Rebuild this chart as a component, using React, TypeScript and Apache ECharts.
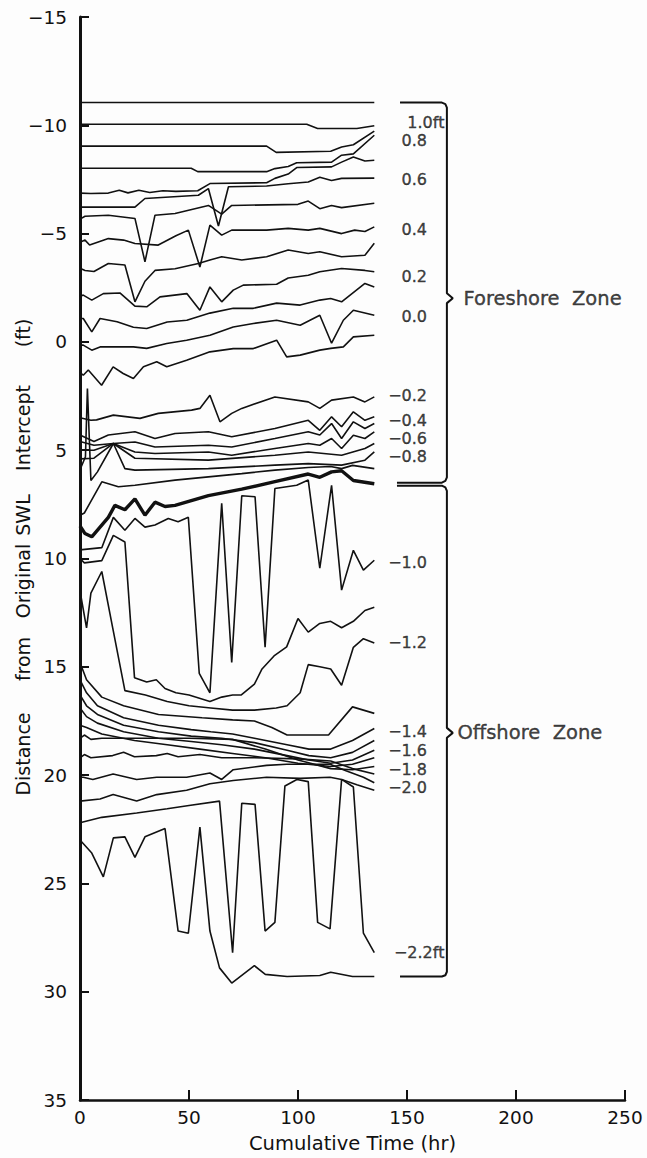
import React, { useEffect, useRef } from "react";
import * as echarts from "echarts";

// ---------- axes ----------
const hourAxis = { min: 0, max: 250, step: 50 };
const distanceAxis = { min: -15, max: 35, step: 5 };

// ---------- foreshore contour traces: [cumulative hours, distance ft] ----------
const fore1 = [[0, -11.05], [135, -11.05]];
const fore2 = [[0, -10.05], [104, -10.05], [109, -9.85], [127, -9.85], [135, -9.98]];
const fore3 = [[0, -9.04], [85.6, -9.04], [90, -8.75], [115, -8.8], [120, -9.0], [125.4, -9.1], [135, -9.73]];
const fore4 = [[0, -8.02], [51, -8.02], [54, -7.86], [85.6, -7.86], [89.4, -8.0], [95.5, -8.1], [99.4, -8.27], [115.4, -8.3], [120, -8.62], [125.4, -8.68], [135, -9.54]];
const fore5 = [[0, -6.87], [5, -6.85], [13, -6.87], [18, -7.0], [22, -6.88], [27, -7.0], [32, -6.9], [38, -6.98], [44, -6.95], [54, -6.98], [59.6, -7.31], [85.6, -7.35], [89.4, -7.55], [95.5, -7.75], [99.4, -8.05], [115.4, -8.08], [120, -8.3], [125.4, -8.54], [130.7, -8.35], [135, -8.39]];
const fore6 = [[0, -6.22], [25.2, -6.22], [29.8, -6.62], [54.3, -6.77], [58.9, -7.08], [63.5, -5.35], [68.1, -7.16], [85.6, -7.2], [95.5, -7.3], [104.7, -7.38], [110, -7.6], [115.4, -7.45], [120, -7.55], [135, -7.56]];
const fore7 = [[0, -5.67], [2.3, -5.8], [13, -5.85], [25.2, -5.7], [29.8, -3.7], [34.4, -5.85], [43.6, -5.93], [58.9, -6.3], [65, -5.9], [69.6, -6.3], [100, -6.35], [104.7, -6.5], [110, -6.15], [115.4, -6.3], [120, -6.2], [135, -6.4]];
const fore8 = [[0, -4.6], [2.3, -4.7], [4.4, -4.47], [13, -4.77], [20, -4.7], [25.2, -4.54], [35.9, -4.47], [44, -4.9], [49.7, -5.16], [55, -3.46], [59.6, -5.39], [65, -4.93], [69.6, -5.16], [85.6, -5.16], [95.5, -5.24], [104.7, -5.16], [110, -5.24], [120, -5.0], [126, -5.16], [130.7, -5.1], [135, -5.31]];
const fore9 = [[0, -3.4], [2.3, -3.3], [6.4, -3.25], [13, -3.62], [20.6, -3.55], [25.2, -1.85], [29.8, -2.8], [34.4, -3.3], [43.6, -3.38], [54.3, -3.62], [59.6, -3.78], [65, -3.93], [74.2, -3.78], [85.6, -3.93], [95.5, -4.24], [104.7, -4.08], [110, -4.16], [120, -3.93], [130.7, -4.0], [135, -4.55]];
const fore10 = [[0, -2.1], [1.5, -2.16], [5.4, -1.93], [10.7, -2.23], [18.3, -2.26], [25.2, -1.65], [30.6, -1.62], [36.7, -2.08], [49, -2.23], [55, -1.46], [59.6, -2.54], [65, -1.85], [70.3, -2.39], [74.9, -2.62], [90.2, -2.66], [95.5, -2.95], [104.7, -3.08], [110, -3.24], [120, -3.39], [130.7, -3.3], [135, -3.24]];
const fore11 = [[0, -1.08], [1.5, -1.08], [5.4, -0.46], [9.2, -1.08], [17, -0.93], [24.5, -0.68], [30.6, -0.62], [40, -0.92], [49, -1.0], [59.6, -1.33], [70.3, -1.55], [79.5, -1.55], [90.2, -1.79], [101, -1.7], [110, -1.93], [115, -2.0], [120, -1.85], [130.7, -2.7], [135, -2.54]];
const fore12 = [[0, 0.15], [1.5, 0.15], [5.4, 0.38], [9.2, 0.23], [24.5, 0.23], [30.6, 0.3], [39.8, 0.07], [48.9, -0.08], [59.6, -0.31], [70.3, -0.69], [79.5, -0.85], [90.2, -1.0], [101, -0.77], [110, -1.23], [115.4, 0.06], [120.8, -1.0], [125.4, -1.46], [135, -1.23]];
const fore13 = [[0, 1.4], [1.5, 1.54], [3.8, 1.3], [9.9, 2.0], [15.2, 1.15], [19.8, 1.46], [24.5, 1.69], [29.1, 1.15], [35.2, 0.92], [39.8, 1.15], [48.9, 0.85], [59.6, 0.46], [70.3, 0.31], [79.5, 0.31], [90.2, -0.08], [94.8, 0.69], [101, 0.61], [110, 0.38], [115, 0.3], [120.8, 0.23], [125.4, -0.23], [135, -0.31]];
const fore14 = [[0, 3.5], [5, 3.62], [7.6, 3.6], [15.3, 3.38], [27.5, 3.53], [35.9, 3.3], [51.2, 3.15], [55, 3.07], [59.6, 2.46], [64.2, 3.69], [69.6, 3.3], [74.2, 3.07], [89.4, 2.54], [104.7, 2.77], [110, 3.07], [115.4, 2.69], [125.4, 2.54], [130.7, 2.77], [135, 2.54]];
const fore15 = [[0, 4.3], [6.4, 4.6], [13, 4.3], [25.2, 4.15], [34.4, 4.46], [43.6, 4.23], [58.9, 4.15], [69.6, 4.38], [89.4, 4.0], [104.7, 3.62], [110, 4.08], [115.4, 3.46], [120, 3.92], [125.4, 3.23], [130.7, 3.62], [135, 3.46]];
const fore16 = [[0, 4.6], [6.4, 4.77], [15.3, 4.69], [25.2, 4.62], [34.4, 4.85], [58.9, 4.77], [69.6, 4.85], [89.4, 4.46], [104.7, 4.15], [110, 4.3], [115.4, 3.77], [120, 4.46], [125.4, 3.69], [130.7, 4.0], [135, 3.77]];
const fore17 = [[0, 5.0], [6.4, 5.0], [15.3, 4.69], [25.2, 5.08], [34.4, 5.15], [58.9, 5.08], [69.6, 5.23], [89.4, 4.92], [104.7, 4.69], [110, 4.77], [115.4, 4.46], [120, 4.92], [125.4, 4.31], [130.7, 4.46], [135, 4.15]];
const fore18 = [[0, 5.4], [6.4, 5.37], [15.3, 4.69], [25.2, 5.37], [58.9, 5.46], [89.4, 5.23], [104.7, 5.08], [120, 5.23], [130.7, 4.92], [135, 4.69]];
const fore19 = [[0, 5.9], [2.5, 5.3], [3.4, 2.15], [5, 6.4], [8, 6.0], [15.3, 4.69], [20.6, 5.85], [25.2, 5.92], [58.9, 5.85], [89.4, 5.69], [104.7, 5.62], [120, 5.69], [130.7, 5.46], [135, 5.08]];
const fore20 = [[0, 8.0], [2, 7.9], [10, 6.46], [17.6, 6.69], [25.2, 6.62], [43.6, 6.38], [58.9, 6.23], [74.2, 6.08], [89.4, 5.92], [104.7, 5.8], [115, 5.75], [120, 5.85], [125, 5.7], [135, 5.85]];

// ---------- zone boundary (heavy trace) ----------
const boundaryTrace = [[0, 8.5], [2.3, 8.85], [5.4, 9.0], [13, 8.1], [16, 7.55], [20.6, 7.75], [25.2, 7.25], [29.8, 8.0], [34.4, 7.4], [39, 7.6], [43.6, 7.55], [58.9, 7.1], [74.2, 6.8], [89.4, 6.45], [104.7, 6.1], [110, 6.25], [115.4, 6.0], [120, 5.95], [125.4, 6.4], [135, 6.55]];

// ---------- offshore contour traces ----------
const off1 = [[0, 9.6], [10, 9.5], [15.3, 8.1], [20.6, 8.7], [25.2, 8.15], [29.8, 8.55], [34.4, 8.45], [40.5, 8.15], [45, 8.3], [49.7, 8.1], [54.7, 15.3], [59.6, 16.2], [65, 7.45], [69.6, 14.8], [74.2, 7.1], [80.3, 7.15], [84.9, 14.1], [89.4, 6.77], [99.4, 6.62], [104.7, 6.38], [110, 10.45], [115.4, 6.62], [120, 11.46], [125.4, 9.62], [130, 10.54], [135, 10.08]];
const off2 = [[0, 10.0], [2, 10.2], [10, 10.1], [15.3, 8.93], [20.6, 9.24], [25, 15.5], [30.6, 15.7], [35, 15.6], [39, 16.0], [44, 16.2], [50, 16.3], [59.6, 16.6], [65, 16.4], [70, 16.3], [74, 16.3], [80, 15.8], [83.5, 15.1], [89, 14.5], [94.8, 14.08], [100, 12.77], [104.7, 13.4], [110, 13.0], [115, 12.9], [120, 13.2], [125.4, 12.9], [130.7, 12.4], [135, 12.25]];
const off3 = [[0, 11.5], [3, 13.2], [5, 11.6], [10, 10.6], [15, 13.2], [20.6, 16.1], [30, 16.3], [40, 16.6], [50, 16.8], [60, 16.9], [70, 17.0], [80, 17.0], [90, 16.9], [95, 16.8], [101, 16.2], [104.7, 14.9], [110, 15.0], [115, 15.1], [120, 15.85], [125.4, 14.1], [130, 13.7], [135, 13.9]];
const off4 = [[0, 14.8], [3, 15.6], [10, 16.4], [20, 16.8], [36, 17.2], [56, 17.35], [70, 17.45], [80, 17.5], [88, 17.8], [95, 18.15], [114, 18.15], [125, 16.85], [135, 17.15]];
const off5 = [[0, 15.6], [3, 16.2], [8, 16.8], [20, 17.35], [36, 17.7], [51, 17.9], [60, 18.0], [70, 18.1], [80, 18.3], [95, 18.6], [105, 18.8], [115, 18.8], [125, 18.4], [135, 17.85]];
const off6 = [[0, 16.3], [3, 16.8], [8, 17.2], [20, 17.7], [36, 18.0], [51, 18.2], [65, 18.3], [80, 18.5], [95, 18.85], [105, 19.1], [115, 19.2], [125, 18.95], [135, 18.4]];
const off7 = [[0, 16.9], [3, 17.3], [8, 17.6], [20, 18.0], [36, 18.3], [51, 18.45], [65, 18.6], [80, 18.8], [95, 19.1], [105, 19.3], [115, 19.45], [125, 19.3], [135, 18.85]];
const off8 = [[0, 17.7], [3, 17.8], [10, 18.1], [25, 18.4], [40, 18.6], [55, 18.8], [70, 19.0], [85, 19.2], [100, 19.45], [115, 19.6], [125, 19.5], [135, 19.2]];
const off9 = [[0, 18.3], [2, 18.15], [5, 18.35], [10, 18.3], [50, 18.3], [70, 18.35], [85, 18.8], [100, 19.3], [115, 19.7], [125, 19.75], [135, 19.6]];
const off10 = [[0, 19.2], [2, 19.05], [5, 19.2], [15, 19.1], [20, 18.95], [25, 19.15], [35, 19.1], [40, 19.0], [45, 19.15], [55, 19.05], [65, 19.2], [80, 19.2], [100, 19.25], [115, 19.35], [125, 19.7], [135, 19.95]];
const off11 = [[0, 20.1], [1.5, 20.1], [5.9, 20.2], [15.2, 19.95], [26, 20.2], [35.2, 20.1], [48.9, 20.1], [59.6, 19.9], [65, 20.2], [70.3, 19.75], [85.6, 19.55], [94.8, 19.5], [114.7, 19.5], [122, 19.8], [130, 20.1], [135, 20.35]];
const off12 = [[0, 21.2], [9.2, 21.1], [15.2, 20.9], [26, 21.2], [35.2, 20.9], [48.9, 20.7], [59.6, 20.4], [70.3, 20.25], [85.6, 20.1], [101, 20.15], [114.7, 20.1], [120, 20.2], [127, 20.45], [135, 20.7]];
const off13 = [[0, 22.2], [10, 21.95], [26, 21.75], [40, 21.55], [50, 21.4], [64, 21.2], [70, 28.2], [74.2, 21.3], [80.3, 21.35], [84.9, 27.2], [89.4, 26.8], [94, 20.5], [99.5, 20.2], [104.7, 20.3], [109, 26.8], [114.7, 27.1], [120, 20.2], [125.4, 20.55], [130, 27.3], [135, 28.2]];
const off14 = [[0, 23.0], [5.4, 23.6], [10.7, 24.7], [15.3, 22.9], [20.6, 22.85], [25.2, 23.8], [29.8, 22.85], [39, 22.47], [45, 27.2], [49.7, 27.3], [55, 22.4], [59.6, 27.2], [64, 28.9], [69.6, 29.6], [80, 28.8], [85, 29.2], [95, 29.3], [110, 29.25], [115, 29.1], [125, 29.3], [135, 29.3]];

// ---------- zone braces ----------
const foreshoreBrace = [[146.8, -11.05], [166, -11.05], [167.6, -10.98], [168.3, -10.82], [168.3, -2.25], [171, -2.02], [168.3, -1.79], [168.3, 6.25], [167.6, 6.42], [166, 6.5], [145.4, 6.5]];
const offshoreBrace = [[145.4, 6.64], [166, 6.64], [167.6, 6.72], [168.3, 6.88], [168.3, 17.82], [171, 18.05], [168.3, 18.28], [168.3, 29.08], [167.6, 29.24], [166, 29.3], [146.8, 29.3]];

// ---------- contour labels ----------
const contourLabelText = ["1.0ft", "0.8", "0.6", "0.4", "0.2", "0.0", "\u22120.2", "\u22120.4", "\u22120.6", "\u22120.8", "\u22121.0", "\u22121.2", "\u22121.4", "\u22121.6", "\u22121.8", "\u22122.0", "\u22122.2ft"];
const contourLabelFt = [-10.15, -9.3, -7.51, -5.2, -3.03, -1.19, 2.46, 3.62, 4.45, 5.28, 10.17, 13.86, 17.97, 18.85, 19.72, 20.55, 28.2];

const zoneNames = ["Foreshore  Zone", "Offshore  Zone"];
const zoneFt = [-2.02, 18.05];

const axisTitleWords = ["Distance", "from", "Original", "SWL", "Intercept", "(ft)"];
const axisTitleCenters = [754, 659, 581, 515, 428, 333];

const thinTraces = [
  fore1, fore2, fore3, fore4, fore5, fore6, fore7, fore8, fore9, fore10,
  fore11, fore12, fore13, fore14, fore15, fore16, fore17, fore18, fore19, fore20,
  off1, off2, off3, off4, off5, off6, off7, off8, off9, off10, off11, off12, off13, off14,
];

const INK = "#111111";
const FONT = "DejaVu Sans";

function minusFmt(v: number) {
  return v < 0 ? "\u2212" + Math.abs(v) : String(v);
}

export default function App() {
  const ref = useRef<HTMLDivElement>(null);
  useEffect(() => {
    const chart = echarts.init(ref.current!, null, { renderer: "svg" });

    const series: any[] = thinTraces.map((d, i) => ({
      type: "line",
      name: "trace" + i,
      data: d,
      symbol: "none",
      silent: true,
      lineStyle: { color: INK, width: 1.6 },
      z: 2,
    }));
    series.push({
      type: "line",
      name: "boundary",
      data: boundaryTrace,
      symbol: "none",
      silent: true,
      lineStyle: { color: INK, width: 3.4 },
      z: 3,
    });
    [foreshoreBrace, offshoreBrace].forEach((b, i) => {
      series.push({
        type: "line",
        name: "brace" + i,
        data: b,
        symbol: "none",
        silent: true,
        lineStyle: { color: INK, width: 2 },
        z: 3,
      });
    });
    series.push({
      type: "scatter",
      name: "contourLabels",
      silent: true,
      symbolSize: 1,
      itemStyle: { color: "rgba(0,0,0,0)" },
      data: contourLabelText.map((t, i) => ({
        name: t,
        value: [t.endsWith("ft") ? 167.4 : 159.4, contourLabelFt[i]],
      })),
      label: {
        show: true,
        position: "left",
        distance: 0,
        formatter: "{b}",
        color: INK,
        fontFamily: FONT,
        fontSize: 16,
        textBorderColor: INK,
        textBorderWidth: 0.4,
      },
      z: 4,
    });
    series.push({
      type: "scatter",
      name: "zoneLabels",
      silent: true,
      symbolSize: 1,
      itemStyle: { color: "rgba(0,0,0,0)" },
      data: zoneNames.map((t, i) => ({
        name: t,
        value: [i === 0 ? 175.7 : 172.9, zoneFt[i]],
      })),
      label: {
        show: true,
        position: "right",
        distance: 0,
        formatter: "{b}",
        color: INK,
        fontFamily: FONT,
        fontSize: 19.5,
        textBorderColor: INK,
        textBorderWidth: 0.4,
      },
      z: 4,
    });

    chart.setOption({
      animation: false,
      backgroundColor: "#fdfdfd",
      textStyle: { fontFamily: FONT, color: INK },
      grid: { left: 80, right: 22, top: 17, bottom: 58, containLabel: false },
      xAxis: {
        type: "value",
        min: hourAxis.min,
        max: hourAxis.max,
        interval: hourAxis.step,
        name: "Cumulative Time (hr)",
        nameLocation: "middle",
        nameGap: 33,
        nameTextStyle: { fontSize: 19.5, color: INK, fontFamily: FONT },
        axisLine: { onZero: false, lineStyle: { color: INK, width: 2.5 } },
        axisTick: { inside: true, length: 10, lineStyle: { color: INK, width: 2 } },
        axisLabel: { fontSize: 18.5, color: INK, margin: 8, fontFamily: FONT },
        splitLine: { show: false },
      },
      yAxis: {
        type: "value",
        inverse: true,
        min: distanceAxis.min,
        max: distanceAxis.max,
        interval: distanceAxis.step,
        axisLine: { onZero: false, lineStyle: { color: INK, width: 3 } },
        axisTick: { inside: true, length: 9, lineStyle: { color: INK, width: 2 } },
        axisLabel: { fontSize: 18.5, color: INK, margin: 13, fontFamily: FONT, formatter: minusFmt },
        splitLine: { show: false },
      },
      graphic: axisTitleWords.map((w, i) => ({
        type: "text",
        x: 23,
        y: axisTitleCenters[i],
        rotation: Math.PI / 2,
        silent: true,
        style: {
          text: w,
          fill: INK,
          font: `19px "${FONT}"`,
          align: "center",
          verticalAlign: "middle",
          textAlign: "center",
          textVerticalAlign: "middle",
        },
      })),
      series,
    });
    return () => chart.dispose();
  }, []);
  return (
    <div
      ref={ref}
      style={{ position: "fixed", left: 0, top: 0, width: 647, height: 1158, background: "#fdfdfd" }}
    />
  );
}
